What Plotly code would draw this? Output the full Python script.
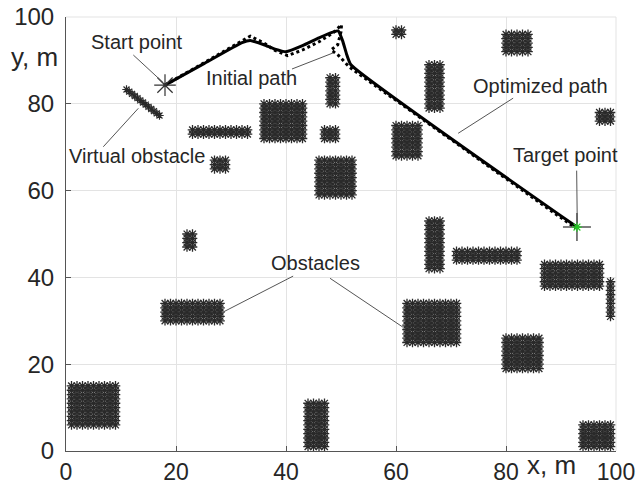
import numpy as np
import plotly.graph_objects as go

# ---------------- data ----------------
# obstacle rectangles (marker-centre bounds, 1 m grid)
obs_x0 = [1, 18, 22, 44, 23, 27, 36, 48, 47, 46, 60, 66, 60, 80, 97, 66, 71, 62, 80, 87, 99, 94]
obs_x1 = [9, 28, 23, 47, 33, 29, 43, 49, 49, 52, 61, 68, 64, 84, 99, 68, 82, 71, 86, 97, 99, 99]
obs_y0 = [6, 30, 47, 1, 73, 65, 72, 80, 72, 59, 96, 79, 68, 92, 76, 42, 44, 25, 19, 38, 31, 1]
obs_y1 = [15, 34, 50, 11, 74, 67, 80, 86, 74, 67, 97, 89, 75, 96, 78, 53, 46, 34, 26, 43, 39, 6]

# virtual obstacle points
virt_x = [11, 11.5, 12, 12.5, 13, 13.5, 14, 14.5, 15, 15.5, 16, 16.5, 17]
virt_y = [83.3, 82.8, 82.3, 81.8, 81.3, 80.8, 80.3, 79.8, 79.3, 78.8, 78.3, 77.8, 77.3]

# optimized path
opt_x = [18, 25, 32, 33.5, 36, 38, 40, 43, 46, 48.5, 49.5, 50.3, 51, 51.8, 92.9]
opt_y = [84.3, 89.2, 94.1, 94.6, 93.6, 92.6, 92.0, 93.4, 95.2, 96.5, 96.8, 94.5, 91.5, 89.0, 51.6]

# initial path
init_x = [18, 25, 32, 33.5, 36, 38, 40.3, 43, 46, 48.5, 50.1, 50.0, 49.4, 48.2, 49.5, 51.5, 53, 92.6]
init_y = [84.3, 89.4, 94.6, 95.6, 94.0, 92.3, 91.1, 92.4, 94.3, 96.3, 98.2, 96.6, 93.6, 92.4, 91.2, 88.5, 87.1, 51.4]

start_pt = (18, 84.3)
target_pt = (92.9, 51.6)

ticks = [0, 20, 40, 60, 80, 100]

# annotations: text, text position, leader lines
ann_text = ["Start point", "Initial path", "Virtual obstacle", "Optimized path", "Target point", "Obstacles"]
ann_pos = [(12.9, 94.2), (33.8, 85.9), (12.9, 68.0), (86.3, 84.2), (90.9, 68.3), (45.3, 43.4)]
lead_lines = [
    ((12.24, 91.24), (17.69, 84.86)),
    ((41.09, 88.02), (48.55, 91.71)),
    ((6.78, 70.10), (13.15, 78.96)),
    ((81.3, 81.3), (71.3, 73.2)),
    ((92.85, 64.6), (92.96, 52.5)),
    ((41.3, 40.3), (28.7, 32.1)),
    ((48.0, 39.8), (61.3, 28.5)),
]

# ---------------- build ----------------
ox, oy = [], []
for x0, x1, y0, y1 in zip(obs_x0, obs_x1, obs_y0, obs_y1):
    gx, gy = np.meshgrid(np.arange(x0, x1 + 0.01, 1.0), np.arange(y0, y1 + 0.01, 1.0))
    ox.extend(gx.ravel().tolist())
    oy.extend(gy.ravel().tolist())

FONT = "Liberation Sans, Arial, Helvetica, sans-serif"
TXT = "#262626"
OBS = "#2a2a2a"

fig = go.Figure()
fig.add_trace(go.Scatter(x=ox, y=oy, mode="markers",
                         marker=dict(symbol="asterisk-open", size=8, color=OBS,
                                     line=dict(width=1.3, color=OBS)),
                         hoverinfo="skip", showlegend=False))
fig.add_trace(go.Scatter(x=virt_x, y=virt_y, mode="markers",
                         marker=dict(symbol="asterisk-open", size=7, color=OBS,
                                     line=dict(width=1.2, color=OBS)),
                         showlegend=False))
fig.add_trace(go.Scatter(x=init_x, y=init_y, mode="lines",
                         line=dict(color="black", width=3, dash="3px,3px"),
                         showlegend=False))
fig.add_trace(go.Scatter(x=opt_x, y=opt_y, mode="lines", line_shape="spline",
                         line=dict(color="black", width=3, smoothing=0.4),
                         showlegend=False))
fig.add_trace(go.Scatter(x=[start_pt[0]], y=[start_pt[1]], mode="markers",
                         marker=dict(symbol="asterisk-open", size=18, color="#333333",
                                     line=dict(width=1.2, color="#333333")),
                         showlegend=False))
fig.add_trace(go.Scatter(x=[target_pt[0]], y=[target_pt[1]], mode="markers",
                         marker=dict(symbol="cross-thin-open", size=20, color="#555555",
                                     line=dict(width=1.5, color="#555555")),
                         showlegend=False))
fig.add_trace(go.Scatter(x=[target_pt[0]], y=[target_pt[1]], mode="markers",
                         marker=dict(symbol="asterisk-open", size=8, color="#22cc22",
                                     line=dict(width=1.2, color="#22cc22")),
                         showlegend=False))

for (p0, p1) in lead_lines:
    fig.add_shape(type="line", x0=p0[0], y0=p0[1], x1=p1[0], y1=p1[1],
                  xref="x", yref="y", line=dict(color="#555555", width=1))

for t, (px, py) in zip(ann_text, ann_pos):
    fig.add_annotation(x=px, y=py, text=t, showarrow=False, xref="x", yref="y",
                       xanchor="center", yanchor="middle",
                       font=dict(family=FONT, size=20, color=TXT))

# axis titles (paper coordinates)
fig.add_annotation(x=-0.058, y=0.908, text="y, m", showarrow=False, xref="paper", yref="paper",
                   xanchor="center", yanchor="middle",
                   font=dict(family=FONT, size=26, color=TXT))
fig.add_annotation(x=0.882, y=-0.032, text="x, m", showarrow=False, xref="paper", yref="paper",
                   xanchor="center", yanchor="middle",
                   font=dict(family=FONT, size=26, color=TXT))

# light border lines at top/right (grid lines at 100)
fig.add_shape(type="line", xref="paper", yref="paper", x0=0, x1=1, y0=1, y1=1,
              line=dict(color="#e3e3e3", width=1), layer="below")
fig.add_shape(type="line", xref="paper", yref="paper", x0=1, x1=1, y0=0, y1=1,
              line=dict(color="#e3e3e3", width=1), layer="below")

axis_common = dict(range=[0, 100], tickvals=ticks, ticktext=[str(v) for v in ticks],
                   showgrid=True, gridcolor="#e3e3e3", gridwidth=1,
                   showline=True, linecolor="#555555", linewidth=1,
                   ticks="inside", ticklen=5, tickcolor="#555555",
                   zeroline=False, fixedrange=True, automargin=False)

fig.update_layout(
    width=639, height=488, autosize=False,
    margin=dict(l=66, r=23, t=17, b=37, pad=0, autoexpand=False),
    paper_bgcolor="white", plot_bgcolor="white",
    xaxis=dict(**axis_common, ticklabelstandoff=0,
               tickfont=dict(family=FONT, size=23, color=TXT)),
    yaxis=dict(**axis_common, ticklabelstandoff=6,
               tickfont=dict(family=FONT, size=24, color=TXT)),
    showlegend=False,
)

fig.write_html("out.html")
